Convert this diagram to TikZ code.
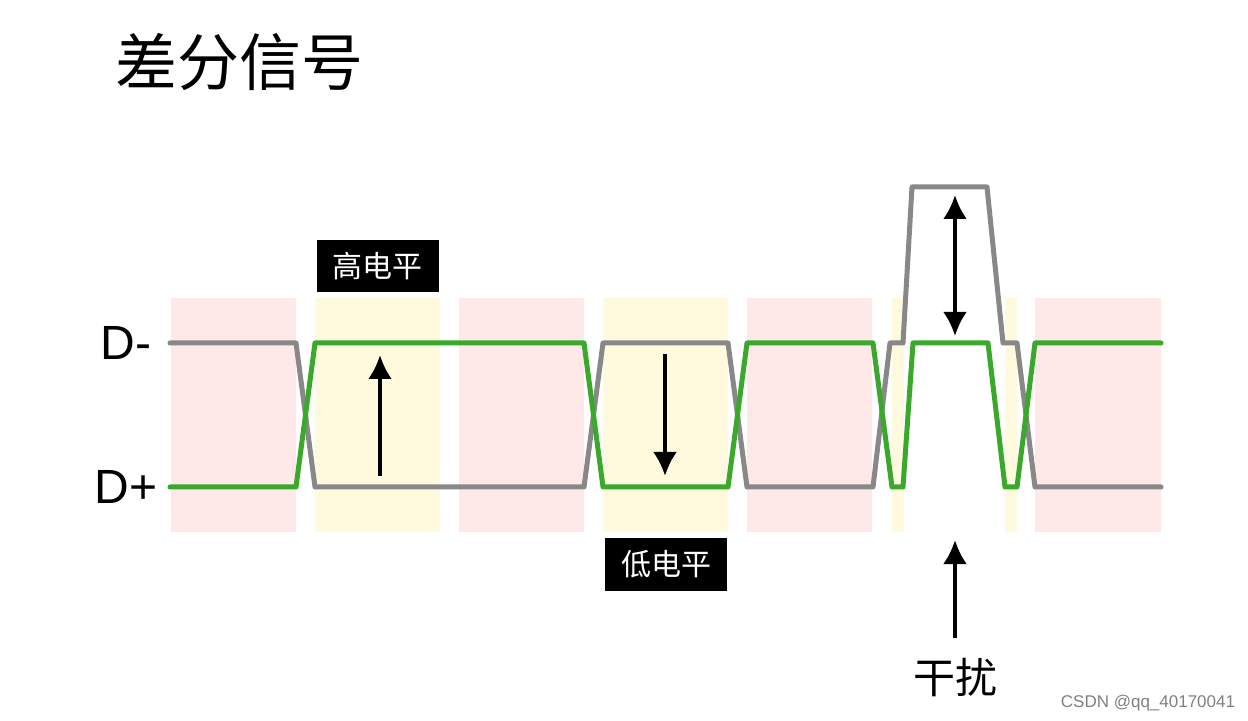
\documentclass[tikz,border=0pt]{standalone}
\usepackage{fontspec}
\setmainfont{Liberation Sans}
\newfontfamily\cjk{Noto Sans CJK SC}
\usetikzlibrary{arrows.meta, positioning}
\definecolor{bandred}{RGB}{255,232,232}
\definecolor{bandyellow}{RGB}{255,249,222}
\definecolor{siggreen}{RGB}{58,168,42}
\definecolor{siggray}{RGB}{136,136,136}

\begin{document}
\begin{tikzpicture}[
    x=0.5pt, y=-0.5pt,
    redband/.style={fill=bandred, draw=none},
    yellowband/.style={fill=bandyellow, draw=none},
    dminus/.style={draw=siggray, line width=2.5pt, line join=round, line cap=round},
    dplus/.style={draw=siggreen, line width=2.5pt, line join=round, line cap=round},
    levelbox/.style={fill=black, text=white, font=\cjk\fontsize{15}{15}\selectfont,
                     minimum width=61pt, minimum height=26pt, inner sep=0pt},
    myarrow/.style={line width=2pt, -{Latex[length=12pt,width=12pt]}},
    dblarrow/.style={line width=2pt, {Latex[length=12pt,width=12pt]}-{Latex[length=12pt,width=12pt]}}
]
\useasboundingbox (0,0) rectangle (1248,721);

% Bands
\fill[redband] (171,298) rectangle (296,532);
\fill[yellowband] (315,298) rectangle (440,532);
\fill[redband] (459,298) rectangle (584,532);
\fill[yellowband] (603,298) rectangle (728,532);
\fill[redband] (747,298) rectangle (872,532);
\fill[yellowband] (892,298) rectangle (904,532);
\fill[yellowband] (1005,298) rectangle (1017,532);
\fill[redband] (1035,298) rectangle (1161,532);

% Signals
\draw[dminus] (170,343) -- (296,343) -- (315,487) -- (584,487) -- (603,343)
    -- (728,343) -- (747,487) -- (873,487) -- (890,343) -- (903,343)
    -- (912,187) -- (987,187) -- (1003,343) -- (1017,343) -- (1035,487) -- (1161,487);
\draw[dplus] (170,487) -- (296,487) -- (315,343) -- (584,343) -- (603,487)
    -- (728,487) -- (747,343) -- (873,343) -- (892,487) -- (903,487)
    -- (913,343) -- (988,343) -- (1005,487) -- (1017,487) -- (1035,343) -- (1161,343);

% Labels
\node[font=\cjk\fontsize{31}{31}\selectfont, anchor=west] (title) at (108,62) {差分信号};
\node[font=\fontsize{24}{24}\selectfont] (dm) at (126,343) {D-};
\node[font=\fontsize{24}{24}\selectfont] (dp) at (126,487) {D+};
\node[levelbox] (high) at (377.5,266) {高电平};
\node[levelbox] (low) at (666,564.5) {低电平};
\node[font=\cjk\fontsize{21}{21}\selectfont] (noise) at (955,678) {干扰};
\node[font=\fontsize{8.5}{8.5}\selectfont, text=gray] (csdn) at (1148,703) {CSDN @qq\_40170041};

% Arrows
\coordinate (hiTail) at (380,476);
\coordinate (hiTip) at (380,355);
\coordinate (loTail) at (665,354);
\coordinate (loTip) at (665,476);
\coordinate (spikeTop) at (955,195);
\coordinate (spikeBot) at (955,336);
\coordinate (noiseTail) at (955,638);
\coordinate (noiseTip) at (955,540);
\draw[myarrow] (hiTail) -- (hiTip);
\draw[myarrow] (loTail) -- (loTip);
\draw[dblarrow] (spikeTop) -- (spikeBot);
\draw[myarrow] (noiseTail) -- (noiseTip);

\end{tikzpicture}
\end{document}
